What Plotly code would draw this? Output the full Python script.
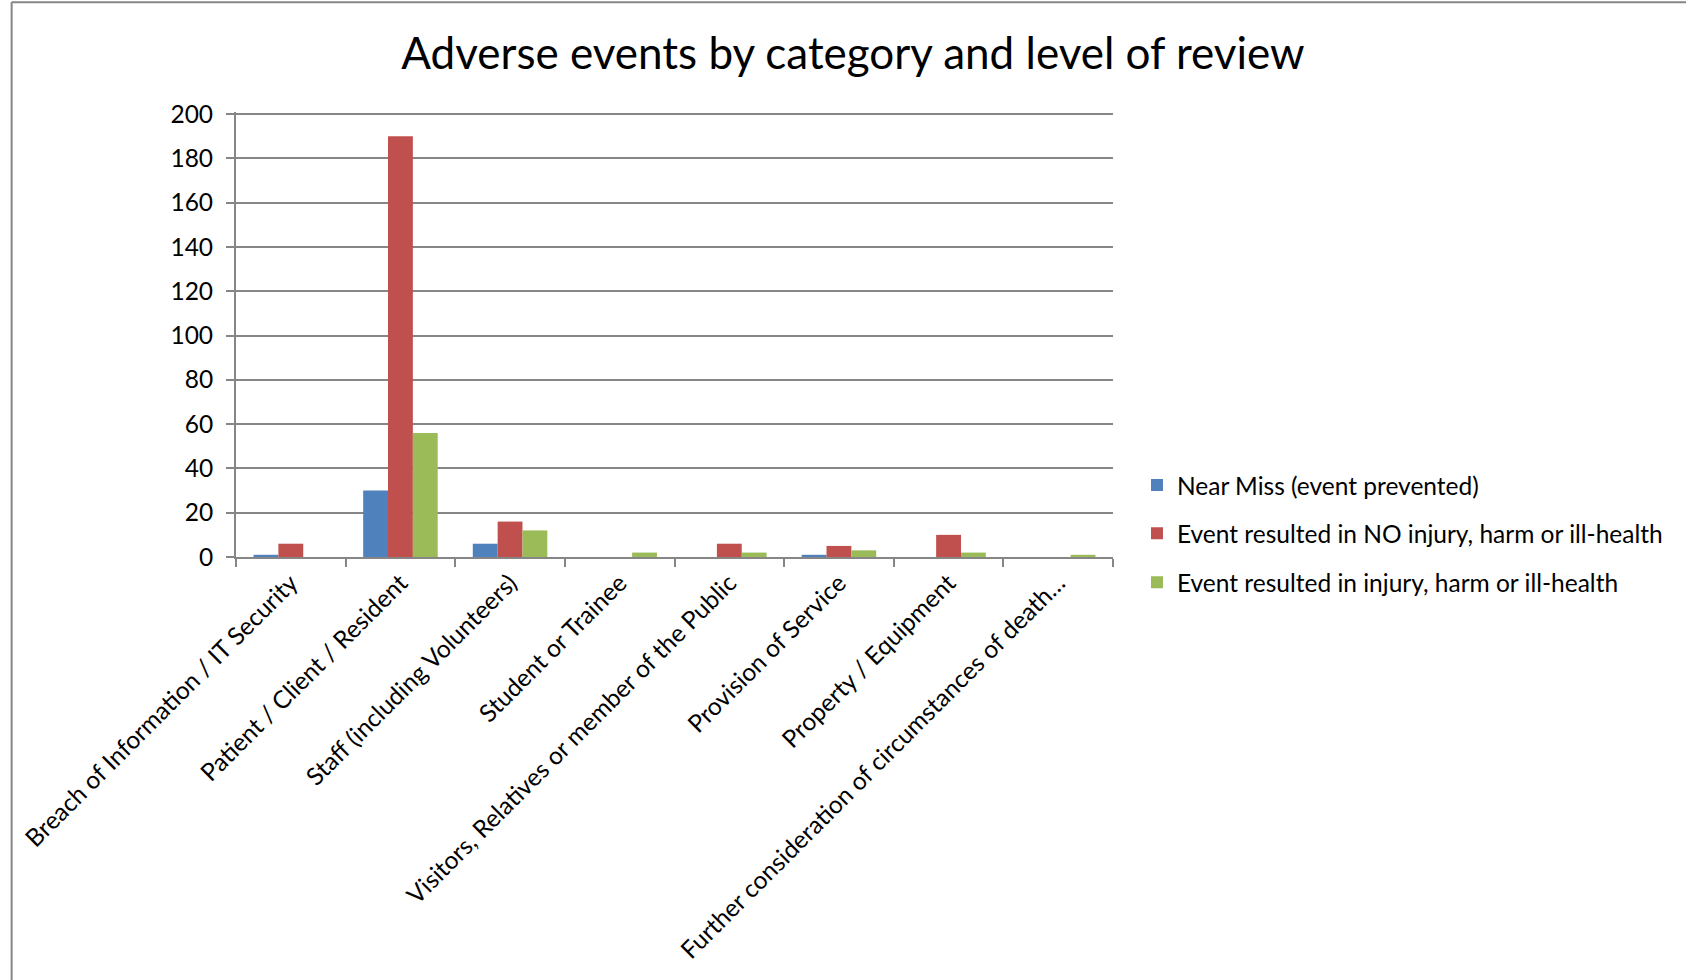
import plotly.graph_objects as go

categories = [
    "Breach of Information / IT Security",
    "Patient / Client / Resident",
    "Staff (including Volunteers)",
    "Student or Trainee",
    "Visitors, Relatives or member of the Public",
    "Provision of Service",
    "Property / Equipment",
    "Further consideration of circumstances of death\u2026",
]
near_miss = [1, 30, 6, 0, 0, 1, 0, 0]
no_injury = [6, 190, 16, 0, 6, 5, 10, 0]
injury = [0, 56, 12, 2, 2, 3, 2, 1]
series_names = [
    "Near Miss (event prevented)",
    "Event resulted in NO injury, harm or ill-health",
    "Event resulted in injury, harm or ill-health",
]
colors = ["#4F81BD", "#C0504D", "#9BBB59"]
y_ticks = [0, 20, 40, 60, 80, 100, 120, 140, 160, 180, 200]
y_top = 201

FONT = "Lato, 'Open Sans', sans-serif"
W, H = 1686, 980
L, R, B = 235.5, 1113, 556.7
Y200 = 114.7
ph = (B - Y200) * y_top / 200
T = B - ph

fig = go.Figure()
legends = ["legend", "legend2", "legend3"]
for name, vals, col, lg in zip(series_names, [near_miss, no_injury, injury], colors, legends):
    fig.add_trace(go.Bar(x=categories, y=vals, name=name, marker_color=col,
                         marker_line_width=0, legend=lg, showlegend=True))

pw = R - L
def px2x(p):
    return (p - L) / pw
def py2y(p):
    return (B - p) / ph

leg_common = dict(font=dict(family=FONT, size=24.5, color="#000000"),
                  bgcolor="rgba(0,0,0,0)", xanchor="left", yanchor="middle",
                  x=px2x(1137), itemwidth=30, visible=True)
fig.update_layout(
    width=W, height=H,
    showlegend=True,
    margin=dict(l=L, r=W - R, t=T, b=H - B),
    paper_bgcolor="white", plot_bgcolor="white",
    title=dict(text="Adverse events by category and level of review",
               font=dict(family=FONT, size=44, color="#000000"),
               x=853 / W, xanchor="center", y=1 - 54 / H, yanchor="middle",
               xref="container", yref="container"),
    barmode="group", bargap=0.32, bargroupgap=0,
    legend=dict(y=py2y(485), **leg_common),
    legend2=dict(y=py2y(533), **leg_common),
    legend3=dict(y=py2y(582), **leg_common),
    xaxis=dict(type="category", tickangle=-45, tickson="boundaries",
               ticks="outside", ticklen=8, tickcolor="#868686", tickwidth=2,
               showline=True, linecolor="#868686", linewidth=2,
               tickfont=dict(family=FONT, size=24.5, color="#000000"),
               showgrid=False, fixedrange=True),
    yaxis=dict(range=[0, y_top], tickvals=y_ticks, ticks="outside", ticklen=8,
               tickcolor="#868686", tickwidth=2,
               showline=True, linecolor="#868686", linewidth=2,
               showgrid=True, gridcolor="#868686", gridwidth=2,
               zeroline=False,
               tickfont=dict(family=FONT, size=24.5, color="#000000"),
               ticklabelstandoff=8),
    shapes=[
        dict(type="line", xref="paper", yref="paper",
             x0=px2x(11), x1=px2x(11), y0=py2y(3), y1=py2y(985),
             line=dict(color="#868686", width=2)),
        dict(type="line", xref="paper", yref="paper",
             x0=px2x(11), x1=px2x(1690), y0=py2y(3), y1=py2y(3),
             line=dict(color="#868686", width=2)),
    ],
)
fig.write_html("out.html")
